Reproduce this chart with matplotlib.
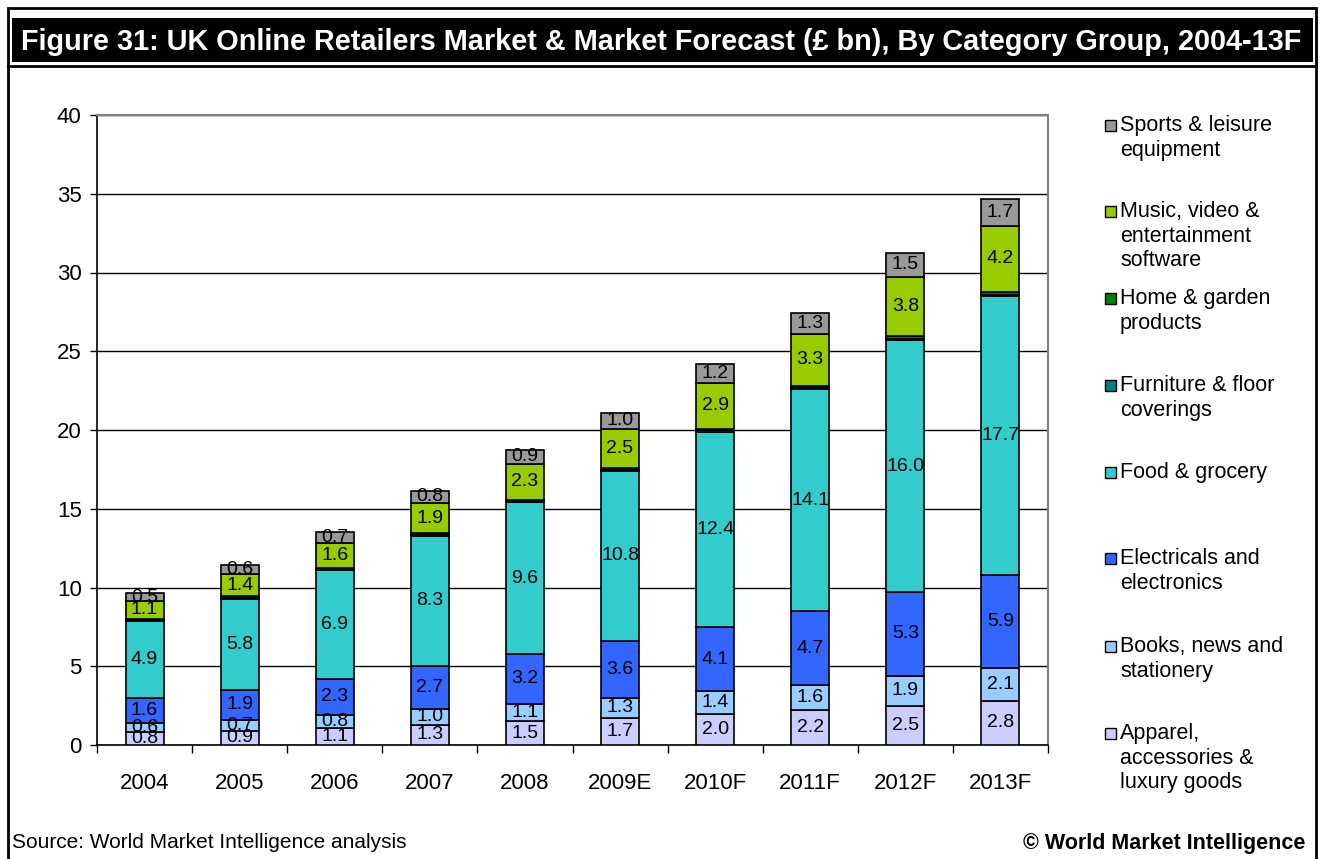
import matplotlib
matplotlib.use("Agg")
import matplotlib.pyplot as plt
from matplotlib.patches import Rectangle
from matplotlib.lines import Line2D
import numpy as np

plt.rcParams["font.family"] = ["Liberation Sans", "DejaVu Sans"]

# ── data (£ bn) ──────────────────────────────────────────────────────────────
years = ["2004", "2005", "2006", "2007", "2008",
         "2009E", "2010F", "2011F", "2012F", "2013F"]

apparel     = [0.8, 0.9, 1.1, 1.3, 1.5, 1.7, 2.0, 2.2, 2.5, 2.8]
books       = [0.6, 0.7, 0.8, 1.0, 1.1, 1.3, 1.4, 1.6, 1.9, 2.1]
electricals = [1.6, 1.9, 2.3, 2.7, 3.2, 3.6, 4.1, 4.7, 5.3, 5.9]
food        = [4.9, 5.8, 6.9, 8.3, 9.6, 10.8, 12.4, 14.1, 16.0, 17.7]
furniture   = [0.03, 0.03, 0.04, 0.05, 0.05, 0.06, 0.07, 0.08, 0.09, 0.1]
home        = [0.1, 0.1, 0.1, 0.1, 0.1, 0.12, 0.12, 0.14, 0.15, 0.17]
music       = [1.1, 1.4, 1.6, 1.9, 2.3, 2.5, 2.9, 3.3, 3.8, 4.2]
sports      = [0.5, 0.6, 0.7, 0.8, 0.9, 1.0, 1.2, 1.3, 1.5, 1.7]

# stacking order, bottom to top
series = [
    ("Apparel,\naccessories &\nluxury goods", apparel, "#CCCCFF", True),
    ("Books, news and\nstationery", books, "#99CCFF", True),
    ("Electricals and\nelectronics", electricals, "#3366FF", True),
    ("Food & grocery", food, "#33CCCC", True),
    ("Furniture & floor\ncoverings", furniture, "#008080", False),
    ("Home & garden\nproducts", home, "#008000", False),
    ("Music, video &\nentertainment\nsoftware", music, "#99CC00", True),
    ("Sports & leisure\nequipment", sports, "#999999", True),
]

W, H = 1329, 859
fig = plt.figure(figsize=(W / 100, H / 100), dpi=100)


def fx(px):
    return px / W


def fy(py):
    return 1 - py / H


# ── frame and title band ─────────────────────────────────────────────────────
fig.add_artist(Rectangle((fx(8), fy(862)), fx(1316) - fx(8), fy(8) - fy(862),
                         transform=fig.transFigure, fill=False,
                         edgecolor="black", linewidth=2))
fig.add_artist(Rectangle((fx(12), fy(62)), fx(1313) - fx(12), fy(18) - fy(62),
                         transform=fig.transFigure, facecolor="black",
                         edgecolor="none"))
fig.add_artist(Line2D([fx(8), fx(1316)], [fy(66), fy(66)],
                      transform=fig.transFigure, color="black", linewidth=2))
fig.text(fx(21), fy(42), "Figure 31: UK Online Retailers Market & Market Forecast "
         "(£ bn), By Category Group, 2004-13F",
         color="white", fontsize=20.8, fontweight="bold", va="center", ha="left")

# ── chart ────────────────────────────────────────────────────────────────────
ax = fig.add_axes([fx(97), fy(745), fx(1048) - fx(97), fy(115) - fy(745)])
x = np.arange(len(years))
bottom = np.zeros(len(years))
for label, vals, colour, show in series:
    bars = ax.bar(x, vals, width=0.4, bottom=bottom, color=colour,
                  edgecolor="black", linewidth=1.2, zorder=3)
    if show:
        ax.bar_label(bars, labels=[f"{v:.1f}" for v in vals],
                     label_type="center", fontsize=14, zorder=4)
    bottom += np.array(vals)

ax.set_ylim(0, 40)
ax.set_xlim(-0.5, len(years) - 0.5)
ax.set_yticks(range(0, 41, 5))
ax.yaxis.grid(True, color="black", linewidth=1, zorder=0)
ax.set_axisbelow(True)
ax.tick_params(axis="y", labelsize=16, length=5, width=1, direction="out", pad=6)

ax.set_xticks(x)
ax.set_xticklabels(years)
ax.set_xticks(np.arange(-0.5, len(years)), minor=True)
ax.tick_params(axis="x", which="major", length=0, labelsize=16, pad=20)
ax.tick_params(axis="x", which="minor", length=6, width=1, direction="out")

for side in ("top", "right"):
    ax.spines[side].set_color("#808080")
    ax.spines[side].set_linewidth(1.5)
for side in ("left", "bottom"):
    ax.spines[side].set_color("black")
    ax.spines[side].set_linewidth(1.2)

# ── legend, top entry first ──────────────────────────────────────────────────
legend_y = [125, 211, 298, 385, 472, 558, 646, 733]
for (label, vals, colour, show), ly in zip(reversed(series), legend_y):
    fig.add_artist(Rectangle((fx(1105), fy(ly + 6)), fx(11), fy(0) - fy(11),
                             transform=fig.transFigure, facecolor=colour,
                             edgecolor="black", linewidth=1))
    fig.text(fx(1120), fy(ly - 10), label, fontsize=15.5, va="top", ha="left",
             linespacing=1.22)

# ── footer ───────────────────────────────────────────────────────────────────
fig.text(fx(12), fy(843), "Source: World Market Intelligence analysis",
         fontsize=15, va="center", ha="left")
fig.text(fx(1305), fy(843), "© World Market Intelligence",
         fontsize=15.5, fontweight="bold", va="center", ha="right")

fig.savefig("out.png", dpi=100)
